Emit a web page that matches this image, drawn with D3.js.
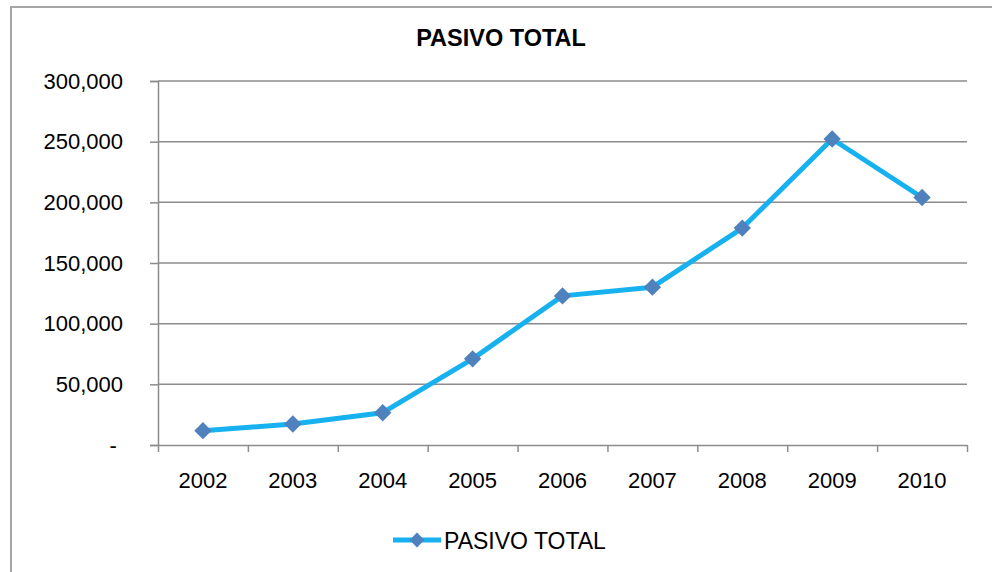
<!DOCTYPE html>
<html>
<head>
<meta charset="utf-8">
<script src="https://cdn.jsdelivr.net/npm/d3@7"></script>
<style>
    body { margin: 0; background: #fff; }
    text { font-family: "Liberation Sans", Arial, sans-serif; fill: #000; }
</style>
</head>
<body>
<div id="graphContainer"></div>
<script>
"use strict";
(function () {
    // data
    const years = ["2002", "2003", "2004", "2005", "2006", "2007", "2008", "2009", "2010"]
    const pasivoTotal = [11800, 17300, 26600, 71000, 122900, 130100, 178800, 252200, 204000]
    const yTicks = [0, 50000, 100000, 150000, 200000, 250000, 300000]
    const chartTitle = "PASIVO TOTAL"
    const seriesName = "PASIVO TOTAL"

    const measurements = {
        width: 992,
        height: 572,
        left: 158,
        right: 967,
        top: 81,
        bottom: 445
    }

    const lineColor = "#16b1ee"
    const markerColor = "#4f81bd"
    const gridColor = "#8c8c8c"

    const svgContainer = d3.select('#graphContainer').append("svg")
        .attr('width', measurements.width)
        .attr('height', measurements.height)

    // outer chart frame (runs off the right and bottom)
    svgContainer.append('rect')
        .attr('x', 11)
        .attr('y', 7)
        .attr('width', 1000)
        .attr('height', 600)
        .attr('fill', 'none')
        .attr('stroke', '#a6a6a6')
        .attr('stroke-width', 2)

    svgContainer.append('text')
        .attr('x', 501)
        .attr('y', 46)
        .attr('text-anchor', 'middle')
        .style('font-size', '23.5px')
        .style('font-weight', 'bold')
        .text(chartTitle)

    let scaleX = d3.scaleBand()
        .domain(years)
        .range([measurements.left, measurements.right])

    let scaleY = d3.scaleLinear()
        .domain([0, 300000])
        .range([measurements.bottom, measurements.top])

    // gridlines
    svgContainer.append('g')
        .selectAll('line')
        .data(yTicks.filter(d => d > 0))
        .enter()
        .append('line')
        .attr('x1', measurements.left)
        .attr('x2', measurements.right)
        .attr('y1', d => scaleY(d))
        .attr('y2', d => scaleY(d))
        .attr('stroke', gridColor)
        .attr('stroke-width', 1.5)

    // y axis
    let yAxis = d3.axisLeft(scaleY)
        .tickValues(yTicks)
        .tickSize(8)
        .tickPadding(27)
        .tickFormat(d => d === 0 ? "-\u00a0" : d3.format(",")(d))

    let gy = svgContainer.append('g')
        .attr('transform', `translate(${measurements.left},0)`)
        .call(yAxis)
    gy.select('.domain').attr('stroke', gridColor).attr('stroke-width', 1.5)
    gy.selectAll('.tick line').attr('stroke', gridColor).attr('stroke-width', 1.5)
    gy.selectAll('.tick text')
        .style('font-size', '22px')
        .style('font-family', '"Liberation Sans", Arial, sans-serif')
        .attr('fill', '#000')

    // x axis, ticks on the band edges
    let xEdges = d3.scaleLinear()
        .domain([0, years.length])
        .range([measurements.left, measurements.right])

    let xAxis = d3.axisBottom(xEdges)
        .tickValues(d3.range(0, years.length + 1))
        .tickSize(7)
        .tickSizeOuter(0)
        .tickFormat("")

    let gx = svgContainer.append('g')
        .attr('transform', `translate(0,${measurements.bottom})`)
        .call(xAxis)
    gx.select('.domain').attr('stroke', gridColor).attr('stroke-width', 1.5)
    gx.selectAll('.tick line').attr('stroke', gridColor).attr('stroke-width', 1.5)

    svgContainer.append('g')
        .selectAll('text')
        .data(years)
        .enter()
        .append('text')
        .attr('x', d => scaleX(d) + scaleX.bandwidth() / 2)
        .attr('y', 488)
        .attr('text-anchor', 'middle')
        .style('font-size', '22px')
        .text(d => d)

    // series line
    const points = years.map((y, i) => ({ year: y, value: pasivoTotal[i] }))
    const xMap = d => scaleX(d.year) + scaleX.bandwidth() / 2
    const yMap = d => scaleY(d.value)

    svgContainer.append('path')
        .datum(points)
        .attr('d', d3.line().x(xMap).y(yMap))
        .attr('fill', 'none')
        .attr('stroke', lineColor)
        .attr('stroke-width', 5)
        .attr('stroke-linejoin', 'round')

    const diamond = d3.symbol().type(d3.symbolSquare).size(150)

    svgContainer.append('g')
        .selectAll('path')
        .data(points)
        .enter()
        .append('path')
        .attr('d', diamond)
        .attr('transform', d => `translate(${xMap(d)},${yMap(d)}) rotate(45)`)
        .attr('fill', markerColor)

    // legend
    const legend = svgContainer.append('g')
    legend.append('line')
        .attr('x1', 393)
        .attr('x2', 441)
        .attr('y1', 540)
        .attr('y2', 540)
        .attr('stroke', lineColor)
        .attr('stroke-width', 5)
    legend.append('path')
        .attr('d', d3.symbol().type(d3.symbolSquare).size(110))
        .attr('transform', 'translate(417,540) rotate(45)')
        .attr('fill', markerColor)
    legend.append('text')
        .attr('x', 444)
        .attr('y', 549)
        .style('font-size', '23px')
        .text(seriesName)
})()
</script>
</body>
</html>
